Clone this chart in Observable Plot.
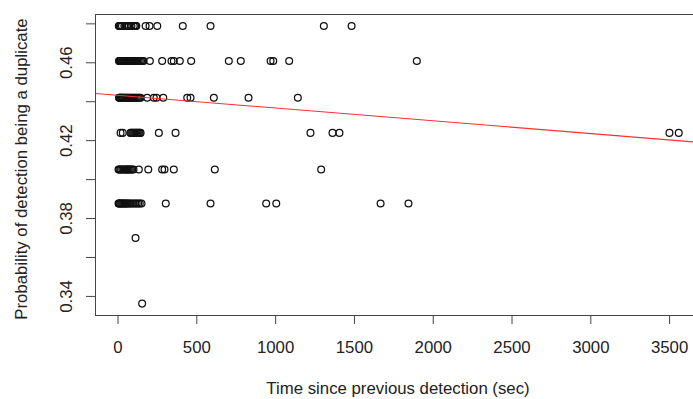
<!DOCTYPE html>
<html><head><meta charset="utf-8">
<script src="https://cdn.jsdelivr.net/npm/d3@7"></script>
<script src="https://cdn.jsdelivr.net/npm/@observablehq/plot@0.6"></script>
<style>
html,body{margin:0;padding:0;background:#fff;overflow:hidden;}
#chart svg{overflow:hidden;display:block;}
</style></head><body><div id="chart"></div>
<script>
// probability levels (one per row of points)
const probLevels = [0.4789, 0.4609, 0.4420, 0.4240, 0.4052, 0.3877, 0.3700, 0.3363];
// time since previous detection (sec) for each probability level
const timesAt0479 = [5, 8, 12, 18, 25, 40, 55, 62, 70, 85, 100, 108, 112, 116, 175, 200, 249, 411, 587, 1306, 1482];
const timesAt0461 = [6, 9, 12, 16, 20, 24, 28, 32, 36, 40, 45, 50, 55, 60, 66, 72, 78, 84, 90, 96, 102, 108, 115, 122, 130, 138, 146, 154, 162, 202, 280, 339, 354, 392, 464, 703, 779, 968, 985, 1086, 1896];
const timesAt0442 = [6, 9, 13, 17, 21, 25, 30, 35, 40, 46, 52, 58, 64, 70, 77, 84, 91, 98, 105, 112, 120, 128, 136, 143, 185, 227, 244, 287, 439, 460, 608, 828, 1141];
const timesAt0424 = [16, 30, 79, 84, 90, 96, 102, 108, 114, 120, 126, 132, 138, 143, 259, 365, 1221, 1361, 1405, 3499, 3558];
const timesAt0405 = [3, 8, 14, 20, 28, 36, 44, 50, 56, 62, 68, 75, 82, 90, 98, 132, 192, 280, 295, 354, 614, 1289];
const timesAt0388 = [3, 6, 10, 15, 20, 26, 32, 38, 44, 50, 56, 62, 70, 78, 88, 98, 108, 118, 128, 138, 149, 303, 587, 940, 1004, 1666, 1843];
const timesAt0370 = [111];
const timesAt0336 = [153];

const xTicks = [0, 500, 1000, 1500, 2000, 2500, 3000, 3500];
const xTickLabels = ["0", "500", "1000", "1500", "2000", "2500", "3000", "3500"];
const yTicks = [0.34, 0.36, 0.38, 0.40, 0.42, 0.44, 0.46, 0.48];
const yTickLabels = ["0.34", "", "0.38", "", "0.42", "", "0.46", ""];
const xDomain = [-143, 3696];
const yDomain = [0.3302, 0.4848];
const fitIntercept = 0.4433;
const fitSlope = -0.00000656;
const xTitle = "Time since previous detection (sec)";
const yTitle = "Probability of detection being a duplicate";

const rows = [timesAt0479, timesAt0461, timesAt0442, timesAt0424, timesAt0405, timesAt0388, timesAt0370, timesAt0336];
const points = rows.flatMap((ts, i) => ts.map(t => ({time: t, prob: probLevels[i]})));
const fitLine = xDomain.map(t => ({time: t, prob: fitIntercept + fitSlope * t}));

const font = "'Liberation Sans', Arial, sans-serif";
const chart = Plot.plot({
  width: 693,
  height: 399,
  marginLeft: 95,
  marginRight: -7,
  marginTop: 14,
  marginBottom: 84,
  style: {fontFamily: font, fontSize: "16.8px", color: "#222", background: "#fff", overflow: "hidden"},
  x: {domain: xDomain},
  y: {domain: yDomain},
  marks: [
    Plot.axisX({ticks: xTicks, tickFormat: d => xTickLabels[xTicks.indexOf(d)], tickSize: 9, tickPadding: 17, label: null, stroke: "#444", fill: "#222"}),
    Plot.axisY({ticks: yTicks, tickFormat: d => yTickLabels[yTicks.indexOf(d)], tickSize: 9, tickPadding: 15, tickRotate: -90, label: null, stroke: "#444", fill: "#222"}),
    Plot.text([xTitle], {frameAnchor: "bottom", dy: 78, lineAnchor: "bottom", textAnchor: "middle", fill: "#222"}),
    Plot.text([yTitle], {frameAnchor: "left", rotate: -90, dx: -80, dy: 4, lineAnchor: "top", textAnchor: "middle", fill: "#222"}),
    Plot.dot(points, {x: "time", y: "prob", r: 3.4, stroke: "#111", strokeWidth: 1.25, fill: "none"}),
    Plot.line(fitLine, {x: "time", y: "prob", stroke: "#ff3030", strokeWidth: 1.1}),
    Plot.frame({stroke: "#444"})
  ]
});
document.getElementById("chart").appendChild(chart);
</script>
</body></html>
